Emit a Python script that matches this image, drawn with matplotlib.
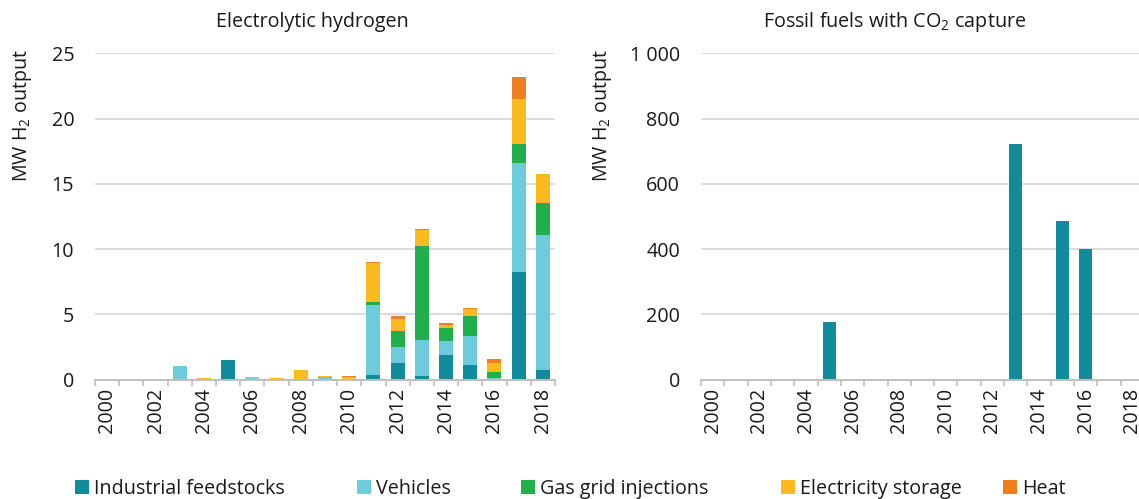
import matplotlib
matplotlib.use("Agg")
import matplotlib.pyplot as plt
import numpy as np
from matplotlib.ticker import FuncFormatter, FixedLocator

plt.rcParams['font.family'] = ['Open Sans', 'DejaVu Sans']
plt.rcParams['mathtext.fontset'] = 'custom'
plt.rcParams['mathtext.rm'] = 'Open Sans'
plt.rcParams['mathtext.default'] = 'regular'

years = list(range(2000, 2019))
categories = ["Industrial feedstocks", "Vehicles", "Gas grid injections", "Electricity storage", "Heat"]
colors = ["#118A9B", "#6CCCDC", "#20AF4B", "#FCBA1E", "#EE8022"]

industrial = [0, 0, 0, 0, 0, 1.46, 0, 0, 0, 0, 0, 0.36, 1.23, 0.28, 1.84, 1.13, 0.03, 8.26, 0.72]
vehicles = [0, 0, 0, 1.05, 0, 0, 0.15, 0, 0, 0.2, 0, 5.34, 1.27, 2.74, 1.10, 2.22, 0.12, 8.34, 10.35]
gas_grid = [0, 0, 0, 0, 0, 0, 0, 0, 0, 0, 0, 0.23, 1.21, 7.24, 1.02, 1.51, 0.41, 1.48, 2.48]
elec_storage = [0, 0, 0, 0, 0.1, 0.07, 0.05, 0.15, 0.69, 0.1, 0.2, 3.02, 0.94, 1.22, 0.21, 0.56, 0.69, 3.42, 2.18]
heat = [0, 0, 0, 0, 0, 0, 0, 0, 0, 0, 0.05, 0.08, 0.21, 0.08, 0.13, 0.08, 0.31, 1.72, 0.02]

ccs_industrial = [0, 0, 0, 0, 0, 176, 0, 0, 0, 0, 0, 0, 0, 722, 0, 487, 399, 0, 0]

left_title = "Electrolytic hydrogen"
right_title = "Fossil fuels with CO$_2$ capture"
ylabel = "MW H$_2$ output"

W, H = 1139, 499
fig = plt.figure(figsize=(W / 100, H / 100), dpi=100)

FS = 14.2
TXT = "#1a1a1a"
GRID = "#d9d9d9"
AXC = "#bfbfbf"


def px(x0, y0, x1, y1):
    return [x0 / W, 1 - y1 / H, (x1 - x0) / W, (y1 - y0) / H]


ax1 = fig.add_axes(px(95, 53.3, 555, 379.5))
ax2 = fig.add_axes(px(701, 53.3, 1144, 379.5))

x = np.arange(len(years))
bw = 0.58

series = [industrial, vehicles, gas_grid, elec_storage, heat]
bottom = np.zeros(len(years))
handles = []
for vals, c, name in zip(series, colors, categories):
    v = np.array(vals, dtype=float)
    b = ax1.bar(x, v, bw, bottom=bottom, color=c, label=name, linewidth=0)
    handles.append(b)
    bottom += v

ax2.bar(x, ccs_industrial, bw * 0.97, color=colors[0], linewidth=0)


def style(ax, ymax, step, fmt):
    ax.set_xlim(-0.5, len(years) - 0.5)
    ax.set_ylim(0, ymax)
    ax.set_yticks(np.arange(0, ymax + step / 2, step))
    ax.yaxis.set_major_formatter(FuncFormatter(fmt))
    ax.yaxis.grid(True, color=GRID, linewidth=1.3)
    ax.set_axisbelow(True)
    for s in ["top", "right", "left"]:
        ax.spines[s].set_visible(False)
    ax.spines["bottom"].set_color(AXC)
    ax.spines["bottom"].set_linewidth(1.4)
    ax.set_xticks(x[::2])
    ax.set_xticklabels([str(y) for y in years[::2]], rotation=90, fontsize=FS, color=TXT)
    ax.xaxis.set_minor_locator(FixedLocator(np.arange(-0.5, len(years), 1.0)))
    ax.tick_params(axis="x", which="major", length=0, pad=6)
    ax.tick_params(axis="x", which="minor", length=4.5, width=1.2, color=AXC)
    ax.tick_params(axis="y", length=0, pad=15, labelsize=FS, labelcolor=TXT)
    for lab in ax.get_xticklabels():
        lab.set_va("top")


style(ax1, 25, 5, lambda v, p: f"{int(v)}")
style(ax2, 1000, 200, lambda v, p: f"{int(v):,}".replace(",", " "))

fig.text(312 / W, 1 - 22 / H, left_title, ha="center", va="center", fontsize=FS, color=TXT)
fig.text(895 / W, 1 - 22 / H, right_title, ha="center", va="center", fontsize=FS, color=TXT)
fig.text(22 / W, 1 - 115 / H, ylabel, ha="center", va="center", rotation=90, fontsize=FS, color=TXT)
fig.text(603 / W, 1 - 115 / H, ylabel, ha="center", va="center", rotation=90, fontsize=FS, color=TXT)

leg_x = [75, 357, 521, 781, 1003]
for hnd, name, lx in zip(handles, categories, leg_x):
    fig.legend([hnd], [name], loc="center left", bbox_to_anchor=(lx / W, 1 - 489 / H),
               frameon=False, fontsize=FS, handlelength=0.7, handleheight=0.7,
               handletextpad=0.25, borderaxespad=0, borderpad=0, labelcolor=TXT)

fig.savefig("out.png", dpi=100)
